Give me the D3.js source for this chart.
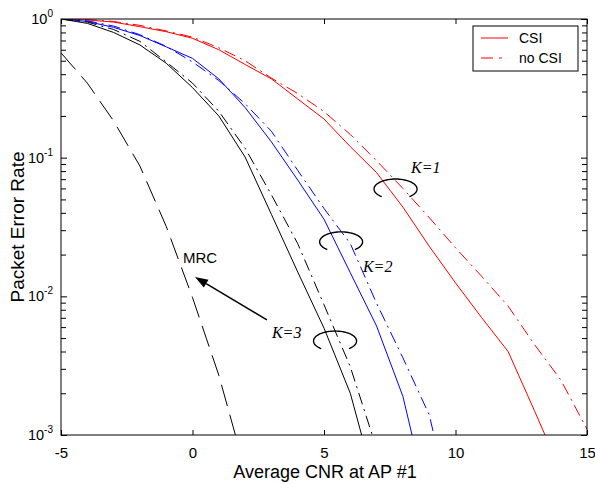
<!DOCTYPE html>
<html>
<head>
<meta charset="utf-8">
<script src="https://cdn.jsdelivr.net/npm/d3@7"></script>
<style>
  html, body { margin: 0; padding: 0; background: #fff; }
  svg { display: block; }
  text { font-family: "Liberation Sans", Arial, Helvetica, sans-serif; fill: #000; }
</style>
</head>
<body>
<svg id="chart" width="595" height="484"></svg>
<script>
// Average CNR at AP #1 (dB), one sample per integer step
const cnr = [-5, -4, -3, -2, -1, 0, 1, 2, 3, 4, 5, 6, 7, 8, 9, 10, 11, 12, 13, 14, 15];

// Packet error rate, K = 1
const k1Csi   = [1.0, 0.985, 0.95, 0.88, 0.81, 0.726, 0.60, 0.47, 0.37, 0.265, 0.19, 0.12, 0.078, 0.044, 0.023, 0.0125, 0.0070, 0.0040, 0.0015, 0.00055];
const k1NoCsi = [1.0, 0.99, 0.96, 0.90, 0.82, 0.74, 0.62, 0.50, 0.375, 0.29, 0.215, 0.147, 0.095, 0.06, 0.037, 0.0224, 0.0139, 0.0085, 0.0045, 0.0025, 0.0011];
// K = 2
const k2Csi   = [1.0, 0.96, 0.87, 0.76, 0.63, 0.52, 0.37, 0.23, 0.13, 0.069, 0.036, 0.0148, 0.0061, 0.0019, 0.0003];
const k2NoCsi = [1.0, 0.97, 0.89, 0.77, 0.635, 0.49, 0.36, 0.245, 0.155, 0.081, 0.043, 0.024, 0.0089, 0.0036, 0.0014, 0.00022];
// K = 3
const k3Csi   = [1.0, 0.93, 0.80, 0.65, 0.48, 0.32, 0.20, 0.101, 0.039, 0.015, 0.0059, 0.002, 0.0004];
const k3NoCsi = [1.0, 0.95, 0.84, 0.69, 0.49, 0.345, 0.216, 0.117, 0.054, 0.024, 0.0087, 0.0031, 0.0008];
// Maximum ratio combining reference
const mrc     = [0.57, 0.345, 0.184, 0.087, 0.032, 0.0098, 0.0027, 0.00056];

const xTicks = [-5, 0, 5, 10, 15];
const xTickLabels = ["-5", "0", "5", "10", "15"];
const yDecades = [1e-3, 1e-2, 1e-1, 1];
const yExponents = ["-3", "-2", "-1", "0"];
const legendLabels = ["CSI", "no CSI"];

const seriesList = [
  { values: k1Csi,   color: "#ff0000", dash: null },
  { values: k1NoCsi, color: "#ff0000", dash: "12,5,2,5" },
  { values: k2Csi,   color: "#0000ff", dash: null },
  { values: k2NoCsi, color: "#0000ff", dash: "12,5,2,5" },
  { values: k3Csi,   color: "#000000", dash: null },
  { values: k3NoCsi, color: "#000000", dash: "12,5,2,5" },
  { values: mrc,     color: "#000000", dash: "22,9" }
];

const svg = d3.select("#chart");
const plotLeft = 61, plotRight = 587, plotTop = 19, plotBottom = 435;

const x = d3.scaleLinear().domain([-5, 15]).range([plotLeft, plotRight]);
const y = d3.scaleLog().domain([1e-3, 1]).range([plotBottom, plotTop]);

svg.append("defs").append("clipPath").attr("id", "plotClip")
  .append("rect").attr("x", plotLeft).attr("y", plotTop)
  .attr("width", plotRight - plotLeft).attr("height", plotBottom - plotTop);

// curves
const line = d3.line().x((d, i) => x(cnr[i])).y(d => y(d));
const curves = svg.append("g").attr("clip-path", "url(#plotClip)");
seriesList.forEach(s => {
  curves.append("path")
    .attr("d", line(s.values))
    .attr("fill", "none")
    .attr("stroke", s.color)
    .attr("stroke-width", 1)
    .attr("stroke-dasharray", s.dash);
});

// axes: ticks point inward, on all four sides
const minorTicks = [];
yDecades.slice(0, 3).forEach(d => { for (let m = 2; m <= 9; m++) minorTicks.push(d * m); });

const axBottom = d3.axisBottom(x).tickValues(xTicks)
  .tickFormat((d, i) => xTickLabels[i])
  .tickSizeInner(-5).tickSizeOuter(0).tickPadding(12);
const gB = svg.append("g").attr("transform", `translate(0,${plotBottom})`).call(axBottom);
const axTop = d3.axisTop(x).tickValues(xTicks).tickSizeInner(-5).tickSizeOuter(0).tickFormat("");
const gT = svg.append("g").attr("transform", `translate(0,${plotTop})`).call(axTop);

const axLeft = d3.axisLeft(y).tickValues(yDecades).tickSizeInner(-6).tickSizeOuter(0).tickFormat("");
const gL = svg.append("g").attr("transform", `translate(${plotLeft},0)`).call(axLeft);
const axLeftMinor = d3.axisLeft(y).tickValues(minorTicks).tickSizeInner(-5).tickSizeOuter(0).tickFormat("");
const gLm = svg.append("g").attr("transform", `translate(${plotLeft},0)`).call(axLeftMinor);
const axRight = d3.axisRight(y).tickValues(yDecades).tickSizeInner(-6).tickSizeOuter(0).tickFormat("");
const gR = svg.append("g").attr("transform", `translate(${plotRight},0)`).call(axRight);
const axRightMinor = d3.axisRight(y).tickValues(minorTicks).tickSizeInner(-5).tickSizeOuter(0).tickFormat("");
const gRm = svg.append("g").attr("transform", `translate(${plotRight},0)`).call(axRightMinor);

[gB, gT, gL, gLm, gR, gRm].forEach(g => {
  g.select(".domain").remove();
  g.selectAll("line").attr("stroke", "#000").attr("stroke-width", 1);
});
gB.selectAll("text")
  .style("font-family", '"Liberation Sans", Arial, sans-serif')
  .style("font-size", "15px").attr("fill", "#000");

// y labels as powers of ten
const yLab = svg.append("g");
yDecades.forEach((d, i) => {
  const t = yLab.append("text")
    .attr("x", 53).attr("y", y(d) + 5)
    .attr("text-anchor", "end")
    .style("font-size", "14.5px");
  t.append("tspan").text("10");
  t.append("tspan").attr("dy", -7).style("font-size", "10px").text(yExponents[i]);
});

// frame
svg.append("rect")
  .attr("x", plotLeft).attr("y", plotTop)
  .attr("width", plotRight - plotLeft).attr("height", plotBottom - plotTop)
  .attr("fill", "none").attr("stroke", "#000").attr("stroke-width", 1);

// axis titles
svg.append("text")
  .attr("x", (plotLeft + plotRight) / 2 + 1).attr("y", 478)
  .attr("text-anchor", "middle")
  .style("font-size", "18px")
  .text("Average CNR at AP #1");
svg.append("text")
  .attr("transform", `translate(24,${(plotTop + plotBottom) / 2}) rotate(-90)`)
  .attr("text-anchor", "middle")
  .style("font-size", "19px")
  .text("Packet Error Rate");

// group markers: open ellipse arcs around each CSI / no CSI pair
const groups = [
  { label: "K=1", cx: 7.72, cp: 0.0594, tx: 8.31, tp: 0.0775 },
  { label: "K=2", cx: 5.65, cp: 0.0247, tx: 6.48, tp: 0.0150 },
  { label: "K=3", cx: 5.42, cp: 0.00476, tx: 3.02, tp: 0.00501 }
];
const arcGen = d3.line().curve(d3.curveLinear);
groups.forEach(g => {
  const cx = x(g.cx), cy = y(g.cp), rx = 21.5, ry = 10;
  const pts = d3.range(130, 411, 5).map(a => {
    const r = a * Math.PI / 180;
    return [cx + rx * Math.cos(r), cy + ry * Math.sin(r)];
  });
  svg.append("path").attr("d", arcGen(pts))
    .attr("fill", "none").attr("stroke", "#000").attr("stroke-width", 1.4);
  svg.append("text")
    .attr("x", x(g.tx)).attr("y", y(g.tp))
    .style("font-family", '"Liberation Serif", "Times New Roman", serif')
    .style("font-style", "italic")
    .style("font-size", "16px")
    .text(g.label);
});

// MRC label and arrow
svg.append("text")
  .attr("x", x(-0.36)).attr("y", y(0.0174))
  .style("font-size", "15px")
  .text("MRC");
const ax0 = x(2.83), ay0 = y(0.00676), ax1 = x(0.095), ay1 = y(0.0138);
const ang = Math.atan2(ay1 - ay0, ax1 - ax0);
const headLen = 13, headW = 4.5;
const bx = ax1 - headLen * Math.cos(ang), by = ay1 - headLen * Math.sin(ang);
svg.append("line")
  .attr("x1", ax0).attr("y1", ay0).attr("x2", bx).attr("y2", by)
  .attr("stroke", "#000").attr("stroke-width", 1.5);
svg.append("path")
  .attr("d", `M${ax1},${ay1} L${bx - headW * Math.sin(ang)},${by + headW * Math.cos(ang)} L${bx + headW * Math.sin(ang)},${by - headW * Math.cos(ang)} Z`)
  .attr("fill", "#000");

// legend
const lg = svg.append("g");
lg.append("rect")
  .attr("x", 473).attr("y", 26).attr("width", 105).attr("height", 45)
  .attr("fill", "#fff").attr("stroke", "#000").attr("stroke-width", 1);
legendLabels.forEach((lab, i) => {
  const ly = 38 + i * 20;
  lg.append("line")
    .attr("x1", 481).attr("x2", 508).attr("y1", ly).attr("y2", ly)
    .attr("stroke", "#ff0000").attr("stroke-width", 1)
    .attr("stroke-dasharray", i === 0 ? null : "12,6,3,6");
  lg.append("text")
    .attr("x", 519).attr("y", ly + 5)
    .style("font-size", "14px")
    .text(lab);
});
</script>
</body>
</html>
